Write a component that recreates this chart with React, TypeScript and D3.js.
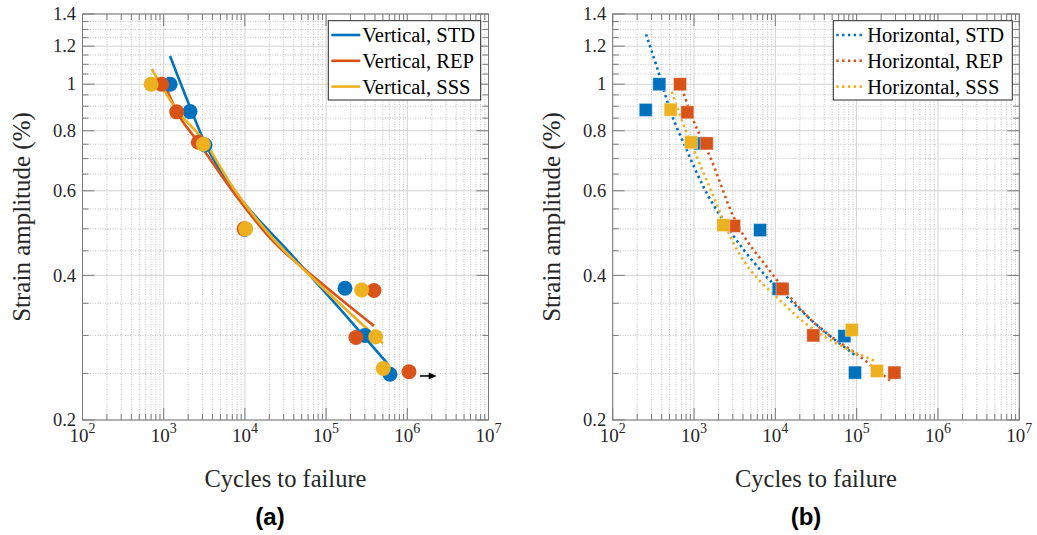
import React from 'react';
import * as d3 from 'd3';

// colours (MATLAB default order)
const BLUE = '#0072BD';
const RED = '#D95319';
const YELLOW = '#EDB120';

// axes
const xDecades = [2, 3, 4, 5, 6, 7];
const yTicks = [0.2, 0.4, 0.6, 0.8, 1, 1.2, 1.4];
const yTickLabels = ['0.2', '0.4', '0.6', '0.8', '1', '1.2', '1.4'];
const yMinor = [0.25, 0.3, 0.35, 0.45, 0.5, 0.55, 0.65, 0.7, 0.75, 0.85, 0.9, 0.95, 1.05, 1.1, 1.15, 1.25, 1.3, 1.35];

// (a) vertical - test points
const vStdN = [1200, 2110, 3230, 10000, 171000, 301000, 612000];
const vStdE = [1.0, 0.877, 0.747, 0.499, 0.376, 0.3, 0.249];
const vRepN = [945, 1445, 2670, 9800, 389000, 233000, 1050000];
const vRepE = [1.0, 0.876, 0.757, 0.5, 0.372, 0.297, 0.252];
const vSssN = [700, 3080, 10200, 274000, 408000, 506000];
const vSssE = [1.0, 0.75, 0.5, 0.373, 0.298, 0.256];

// (a) fitted curves
const vStdFitN = [1196, 2108, 3226, 4164, 7339, 35930, 148300, 578500];
const vStdFitE = [1.145, 0.897, 0.754, 0.695, 0.602, 0.445, 0.3405, 0.2615];
const vRepFitN = [945, 1458, 2645, 7340, 20380, 84100, 389000];
const vRepFitE = [1.035, 0.875, 0.759, 0.594, 0.4785, 0.3875, 0.314];
const vSssFitN = [712, 1417, 3048, 7340, 20380, 84100, 502000];
const vSssFitE = [1.076, 0.888, 0.767, 0.605, 0.485, 0.382, 0.289];

// run-out arrow (a)
const runoutN = [1.43e6, 2.3e6];
const runoutE = 0.247;

// (b) horizontal - test points
const hStdN = [374, 255, 1186, 6490, 11000, 70600, 95500];
const hStdE = [1.0, 0.884, 0.753, 0.497, 0.375, 0.299, 0.251];
const hRepN = [673, 828, 1433, 3105, 12250, 29300, 291000];
const hRepE = [1.0, 0.874, 0.753, 0.507, 0.375, 0.3, 0.251];
const hSssN = [516, 918, 2291, 87100, 177800];
const hSssE = [0.885, 0.757, 0.509, 0.308, 0.253];

// (b) fitted curves
const hStdFitN = [257, 348, 507, 813, 1301, 2191, 7118, 13810, 29340, 95560];
const hStdFitE = [1.27, 1.0875, 0.884, 0.7296, 0.612, 0.526, 0.404, 0.361, 0.32, 0.273];
const hRepFitN = [706, 980, 1573, 3105, 8604, 29090, 110100, 270200];
const hRepFitE = [0.981, 0.842, 0.7065, 0.527, 0.4085, 0.32, 0.271, 0.24];
const hSssFitN = [532, 706, 1080, 1728, 2772, 13810, 176700];
const hSssFitE = [0.965, 0.842, 0.7065, 0.585, 0.483, 0.344, 0.2645];

const zip = (a: number[], b: number[]) => a.map((v, i) => [v, b[i]] as [number, number]);

const SERIF = '"Liberation Serif", "Times New Roman", serif';

const TOP = 14;
const BOTTOM = 420;

type Series = { name: string; color: string; pts: [number, number][]; fit: [number, number][] };

const Panel = ({ x0, x1, series, dotted, square, legX, legW, tagX, tag, arrow }: any) => {
  const x = d3.scaleLog().domain([1e2, 1e7]).range([x0, x1]);
  const y = d3.scaleLog().domain([0.2, 1.4]).range([BOTTOM, TOP]);
  const line = d3.line<[number, number]>().x(d => x(d[0])).y(d => y(d[1])).curve(d3.curveMonotoneX);

  const xMinor: number[] = [];
  for (let d = 2; d < 7; d++) for (let k = 2; k <= 9; k++) xMinor.push(k * Math.pow(10, d));
  const xMajor = xDecades.map(d => Math.pow(10, d));

  const axisCol = '#7a7a7a';
  const fitDash = dotted ? '2.4 3.4' : undefined;

  return (
    <g>
      {/* grid */}
      {xMinor.map(v => (
        <line key={'gx' + v} x1={x(v)} x2={x(v)} y1={TOP} y2={BOTTOM} stroke="#c4c4c4" strokeDasharray="1 1.5" />
      ))}
      {yMinor.map(v => (
        <line key={'gy' + v} x1={x0} x2={x1} y1={y(v)} y2={y(v)} stroke="#c4c4c4" strokeDasharray="1 1.5" />
      ))}
      {xMajor.map(v => (
        <line key={'Gx' + v} x1={x(v)} x2={x(v)} y1={TOP} y2={BOTTOM} stroke="#d2d2d2" />
      ))}
      {yTicks.map(v => (
        <line key={'Gy' + v} x1={x0} x2={x1} y1={y(v)} y2={y(v)} stroke="#d2d2d2" />
      ))}

      {/* fits */}
      {series.map((s: Series) => (
        <path key={'f' + s.name} d={line(s.fit) || ''} fill="none" stroke={s.color} strokeWidth={2.6}
          strokeDasharray={fitDash} />
      ))}

      {/* markers */}
      {series.map((s: Series) =>
        s.pts.map((p, i) =>
          square ? (
            <rect key={s.name + i} x={x(p[0]) - 6.5} y={y(p[1]) - 6.5} width={13} height={13} fill={s.color}
              stroke="#ffffff" strokeOpacity={0.35} strokeWidth={1} />
          ) : (
            <circle key={s.name + i} cx={x(p[0])} cy={y(p[1])} r={7.5} fill={s.color} />
          )
        )
      )}

      {arrow && (
        <g>
          <line x1={x(arrow.n[0])} x2={x(arrow.n[1]) - 6} y1={y(arrow.e)} y2={y(arrow.e)} stroke="#000" strokeWidth={1.6} />
          <path d={`M${x(arrow.n[1])},${y(arrow.e)} l-8,-3.5 l0,7 z`} fill="#000" />
        </g>
      )}

      {/* box + ticks */}
      <rect x={x0} y={TOP} width={x1 - x0} height={BOTTOM - TOP} fill="none" stroke={axisCol} strokeWidth={1} />
      {xMinor.map(v => (
        <g key={'tx' + v}>
          <line x1={x(v)} x2={x(v)} y1={BOTTOM} y2={BOTTOM - 6} stroke={axisCol} />
          <line x1={x(v)} x2={x(v)} y1={TOP} y2={TOP + 6} stroke={axisCol} />
        </g>
      ))}
      {xMajor.map(v => (
        <g key={'Tx' + v}>
          <line x1={x(v)} x2={x(v)} y1={BOTTOM} y2={BOTTOM - 12} stroke={axisCol} />
          <line x1={x(v)} x2={x(v)} y1={TOP} y2={TOP + 12} stroke={axisCol} />
        </g>
      ))}
      {yMinor.map(v => (
        <g key={'ty' + v}>
          <line x1={x0} x2={x0 + 6} y1={y(v)} y2={y(v)} stroke={axisCol} />
          <line x1={x1} x2={x1 - 6} y1={y(v)} y2={y(v)} stroke={axisCol} />
        </g>
      ))}
      {yTicks.map(v => (
        <g key={'Ty' + v}>
          <line x1={x0} x2={x0 + 12} y1={y(v)} y2={y(v)} stroke={axisCol} />
          <line x1={x1} x2={x1 - 12} y1={y(v)} y2={y(v)} stroke={axisCol} />
        </g>
      ))}

      {/* tick labels */}
      {yTicks.map((v, i) => (
        <text key={'ly' + v} x={x0 - 6.5} y={y(v)} dy="0.34em" textAnchor="end" fontFamily={SERIF}
          fontSize={18.5} fill="#262626">{yTickLabels[i]}</text>
      ))}
      {xDecades.map(d => (
        <text key={'lx' + d} x={x(Math.pow(10, d))} y={442} textAnchor="middle" fontFamily={SERIF}
          fontSize={19} fill="#262626">
          10<tspan dy={-9} fontSize={14}>{d}</tspan>
        </text>
      ))}

      {/* axis titles */}
      <text x={(x0 + x1) / 2} y={487} textAnchor="middle" fontFamily={SERIF} fontSize={24.5} fill="#262626">
        Cycles to failure
      </text>
      <text transform={`translate(${x0 - 52.5},${(TOP + BOTTOM) / 2}) rotate(-90)`} textAnchor="middle"
        fontFamily={SERIF} fontSize={25} fill="#262626">
        Strain amplitude (%)
      </text>

      {/* legend */}
      <rect x={legX} y={20.7} width={legW} height={79.3} fill="#fff" stroke="#262626" strokeWidth={1} />
      {series.map((s: Series, i: number) => (
        <g key={'lg' + s.name}>
          <line x1={legX + 3} x2={legX + 32} y1={35 + i * 25.8} y2={35 + i * 25.8} stroke={s.color}
            strokeWidth={2.6} strokeDasharray={fitDash} />
          <text x={legX + 34} y={35 + i * 25.8} dy="0.35em" fontFamily={SERIF} fontSize={20.5} fill="#000">
            {s.name}
          </text>
        </g>
      ))}

      <text x={tagX} y={525} textAnchor="middle" fontFamily='"Liberation Sans", Arial, sans-serif'
        fontWeight="bold" fontSize={24} fill="#000">{tag}</text>
    </g>
  );
};

export default function App() {
  const vertical: Series[] = [
    { name: 'Vertical, STD', color: BLUE, pts: zip(vStdN, vStdE), fit: zip(vStdFitN, vStdFitE) },
    { name: 'Vertical, REP', color: RED, pts: zip(vRepN, vRepE), fit: zip(vRepFitN, vRepFitE) },
    { name: 'Vertical, SSS', color: YELLOW, pts: zip(vSssN, vSssE), fit: zip(vSssFitN, vSssFitE) },
  ];
  const horizontal: Series[] = [
    { name: 'Horizontal, STD', color: BLUE, pts: zip(hStdN, hStdE), fit: zip(hStdFitN, hStdFitE) },
    { name: 'Horizontal, REP', color: RED, pts: zip(hRepN, hRepE), fit: zip(hRepFitN, hRepFitE) },
    { name: 'Horizontal, SSS', color: YELLOW, pts: zip(hSssN, hSssE), fit: zip(hSssFitN, hSssFitE) },
  ];

  return (
    <svg width={1037} height={535} style={{ position: 'absolute', left: 0, top: 0, background: '#fff' }}>
      <rect width={1037} height={535} fill="#fff" />
      <Panel x0={82.5} x1={488.5} series={vertical} dotted={false} square={false}
        legX={328.3} legW={152.4} tagX={270} tag="(a)" arrow={{ n: runoutN, e: runoutE }} />
      <Panel x0={612.7} x1={1019.3} series={horizontal} dotted={true} square={true}
        legX={833.3} legW={179} tagX={806} tag="(b)" arrow={null} />
    </svg>
  );
}
